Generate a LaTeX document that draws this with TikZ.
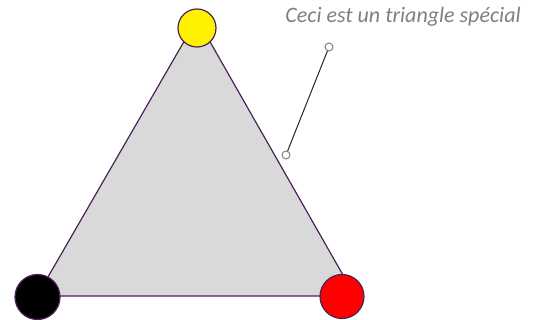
\documentclass[tikz,border=0pt]{standalone}
\usepackage{fontspec}
\setmainfont{Carlito}
\definecolor{edge}{HTML}{4A2257}
\definecolor{tri}{HTML}{D9D9D9}
\definecolor{txt}{HTML}{7F7F7F}
\begin{document}
\begin{tikzpicture}[x=1pt,y=-1pt,
  vtx/.style={circle,draw=edge,line width=1.2pt,inner sep=0pt},
  pin/.style={circle,draw=txt,fill=white,line width=1pt,minimum size=8pt,inner sep=0pt}]
\useasboundingbox (0,0) rectangle (540,320);
\coordinate (A) at (197,19);
\coordinate (B) at (37,296);
\coordinate (C) at (355,296);
\filldraw[fill=tri,draw=edge,line width=1.2pt] (A) -- (B) -- (C) -- cycle;
\node[vtx,fill=yellow,minimum size=38pt] (y) at (197,28) {};
\node[vtx,fill=black,minimum size=45pt] (k) at (37.5,297) {};
\node[vtx,fill=red,minimum size=44pt] (r) at (342,296.5) {};
\node[pin] (p1) at (286,155) {};
\node[pin] (p2) at (329,47) {};
\draw[line width=1pt,black!85] (p1) -- (p2);
\node[text=txt,font=\itshape\fontsize{22}{26}\selectfont,inner sep=0pt] (t) at (403,17) {Ceci est un triangle spécial};
\end{tikzpicture}
\end{document}
